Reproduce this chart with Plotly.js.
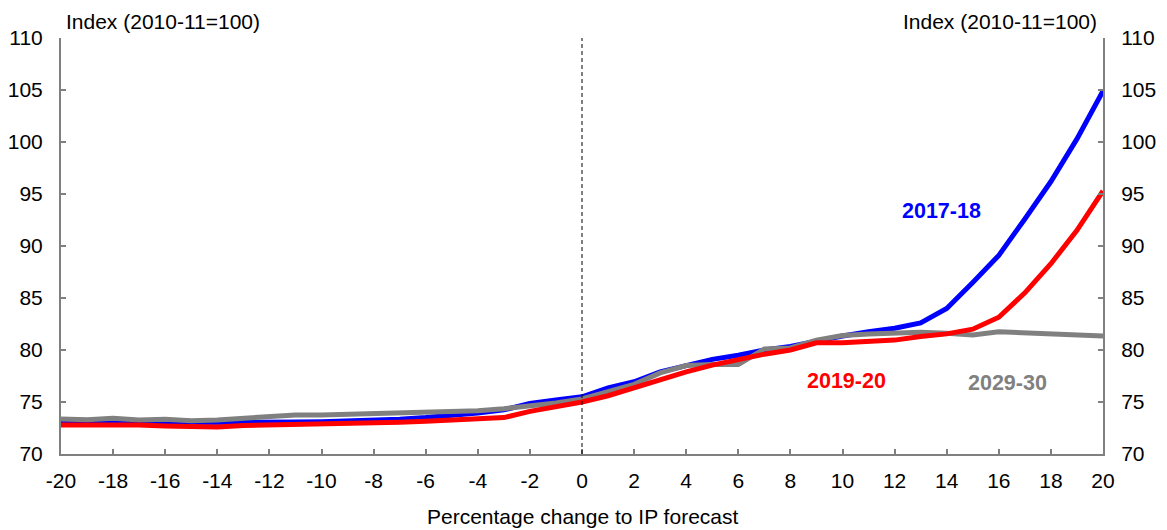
<!DOCTYPE html>
<html>
<head>
<meta charset="utf-8">
<script src="https://cdn.plot.ly/plotly-3.0.1.min.js"></script>
<style>html,body{margin:0;padding:0;background:#fff;}#chart{width:1167px;height:530px;}</style>
</head>
<body>
<div id="chart"></div>
<script>
const xVals = [-20,-19,-18,-17,-16,-15,-14,-13,-12,-11,-10,-9,-8,-7,-6,-5,-4,-3,-2,-1,0,1,2,3,4,5,6,7,8,9,10,11,12,13,14,15,16,17,18,19,20];
const s2017 = [73.0,73.0,73.0,72.98,72.95,72.95,72.95,73.0,73.04,73.07,73.1,73.15,73.2,73.35,73.5,73.7,73.95,74.25,74.85,75.2,75.5,76.35,76.95,77.9,78.55,79.1,79.5,80.0,80.35,80.9,81.35,81.75,82.1,82.6,84.0,86.5,89.1,92.6,96.2,100.3,104.9];
const s2019 = [72.8,72.82,72.85,72.78,72.7,72.7,72.6,72.75,72.8,72.8,72.8,72.85,72.9,73.05,73.15,73.25,73.4,73.5,74.1,74.5,75.0,75.6,76.35,77.2,77.9,78.55,79.1,79.6,80.0,80.7,80.7,80.8,80.95,81.3,81.55,82.0,83.15,85.5,88.3,91.5,95.3];
const s2029 = [73.37,73.3,73.43,73.27,73.33,73.2,73.27,73.43,73.5,73.76,73.76,73.82,73.9,73.92,74.1,74.05,74.15,74.35,74.6,74.9,75.3,76.0,76.7,77.8,78.5,78.6,78.6,80.1,80.2,80.95,81.4,81.55,81.6,81.7,81.6,81.45,81.75,81.65,81.55,81.4,81.35];
const seriesNames = ['2017-18','2019-20','2029-30'];
const seriesColors = ['#0000FF','#FF0000','#808080'];
const xTicks = [-20,-18,-16,-14,-12,-10,-8,-6,-4,-2,0,2,4,6,8,10,12,14,16,18,20];
const yTicks = [70,75,80,85,90,95,100,105,110];
const unitLabel = 'Index (2010-11=100)';
const xTitle = 'Percentage change to IP forecast';
const labelPos = {'2017-18':[13.79,93.37],'2019-20':[10.14,77.02],'2029-30':[16.32,76.83]};

const FONT = 'Liberation Sans, Arial, sans-serif';
const axisCol = '#808080';

const mk = (y, i, ax) => ({
  x: xVals, y: y, type: 'scatter', mode: 'lines', name: seriesNames[i], yaxis: ax,
  line: {color: seriesColors[i], width: 5}, hoverinfo: 'skip'
});
// red series on the overlaid right axis (identical range) so it is drawn on top
const data = [mk(s2017,0,'y'), mk(s2029,2,'y'), mk(s2019,1,'y2')];

const annotations = seriesNames.map((n,i)=>({
  x: labelPos[n][0], y: labelPos[n][1], xref:'x', yref:'y', text: '<b>'+n+'</b>',
  showarrow:false, font:{family:FONT, size:21.5, color: seriesColors[i]}
}));
annotations.push({x:0, xref:'paper', xanchor:'left', xshift:3, y:1, yref:'paper', yanchor:'bottom', yshift:3,
  text: unitLabel, showarrow:false, font:{family:FONT, size:21, color:'#000'}});
annotations.push({x:1, xref:'paper', xanchor:'right', xshift:-4, y:1, yref:'paper', yanchor:'bottom', yshift:3,
  text: unitLabel, showarrow:false, font:{family:FONT, size:21, color:'#000'}});
annotations.push({x:0.5, xref:'paper', xanchor:'center', y:0, yref:'paper', yanchor:'middle', yshift:-62,
  text: xTitle, showarrow:false, font:{family:FONT, size:21, color:'#000'}});

const yax = {
  range:[70,110], tickvals:yTicks, ticktext:yTicks.map(String), ticks:'inside', ticklen:5, tickwidth:2, tickcolor:axisCol,
  showline:true, linecolor:axisCol, linewidth:2, showgrid:false, zeroline:false,
  tickfont:{family:FONT, size:21, color:'#000'}, ticklabelstandoff:12, fixedrange:true
};
const layout = {
  width:1167, height:530,
  margin:{l:61, r:64, t:38, b:76},
  paper_bgcolor:'#fff', plot_bgcolor:'#fff',
  showlegend:false,
  xaxis:{range:[-20,20], tickvals:xTicks, ticktext:xTicks.map(v=>String(v)), ticks:'inside', ticklen:5, tickwidth:2, tickcolor:axisCol,
    showline:true, linecolor:axisCol, linewidth:2, showgrid:false, zeroline:false,
    tickfont:{family:FONT, size:21, color:'#000'}, ticklabelstandoff:7},
  yaxis: Object.assign({}, yax, {side:'left'}),
  yaxis2: Object.assign({}, yax, {side:'right', overlaying:'y', anchor:'x'}),
  shapes:[{type:'line', xref:'x', yref:'paper', x0:0, x1:0, y0:0, y1:1,
    line:{color:'#000', width:1, dash:'4px,3px'}}],
  annotations: annotations
};
Plotly.newPlot('chart', data, layout, {staticPlot:true});
</script>
</body>
</html>
